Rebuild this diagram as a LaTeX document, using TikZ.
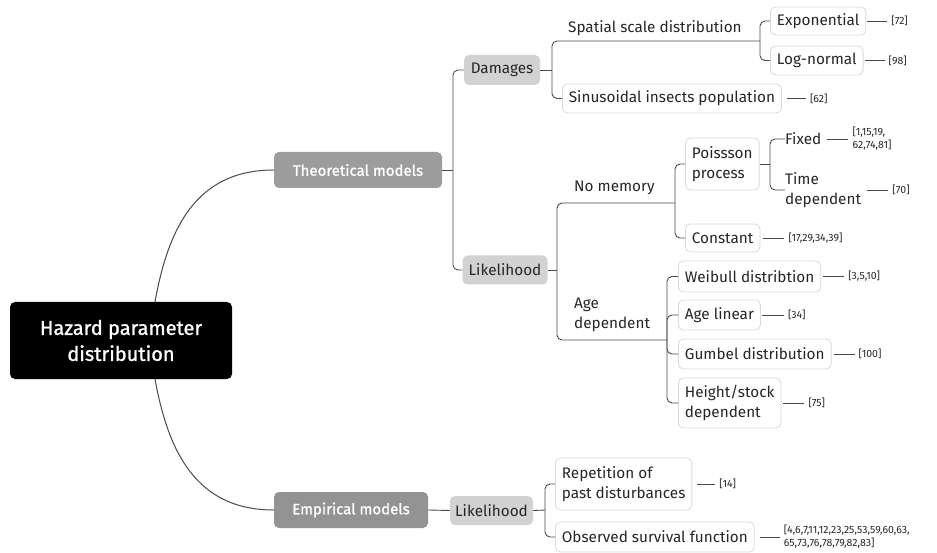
\documentclass[tikz,border=0pt]{standalone}
\usepackage{fontspec}
\setmainfont{Fira Sans}
\newfontfamily\semib[FakeBold=1.2]{Fira Sans}
\usetikzlibrary{calc}
\definecolor{linec}{HTML}{4A4A4A}
\definecolor{boxb}{HTML}{D9D9D9}
\definecolor{txt}{HTML}{262626}
\definecolor{theof}{HTML}{9C9C9C}
\definecolor{empf}{HTML}{939393}
\definecolor{subf}{HTML}{D2D2D2}
\tikzset{
  conn/.style={draw=linec, line width=0.9pt, rounded corners=5pt},
  refl/.style={draw=linec, line width=0.8pt},
  base/.style={inner sep=0pt, text=txt, font=\fontsize{15.3}{20}\selectfont},
  wbox/.style={base, draw=boxb, fill=white, rounded corners=5pt, line width=0.8pt, align=left, anchor=west, inner xsep=6.5pt},
  gbox/.style={base, fill=subf, rounded corners=5pt},
  mbox/.style={base, rounded corners=5pt, text=white, font=\semib\fontsize{15}{20}\selectfont},
  lbl/.style={base, inner sep=0pt, align=left, anchor=west},
  ref/.style={inner xsep=4pt, inner ysep=0pt, text=txt, font=\fontsize{10.5}{13}\selectfont, align=left, anchor=west},
}
\begin{document}
\begin{tikzpicture}[x=1pt,y=-1pt]
\useasboundingbox (0,0) rectangle (937,553);
% main nodes
\node[fill=black, rounded corners=5pt, text=white, inner sep=0pt, minimum width=222, minimum height=77, align=center, font=\semib\fontsize{20}{26}\selectfont] (root) at (121,340.5) {Hazard parameter\\distribution};
\node[mbox, fill=theof, minimum width=168, minimum height=36] (theo) at (358,170) {Theoretical models};
\node[mbox, fill=empf, minimum width=154, minimum height=36] (emp) at (351,510) {Empirical models};
\node[gbox, minimum width=76, minimum height=30] (dam) at (502,70) {Damages};
\node[gbox, minimum width=85, minimum height=29] (lik1) at (505,270) {Likelihood};
\node[gbox, minimum width=83, minimum height=29] (lik2) at (491.5,510.5) {Likelihood};
% damages subtree
\node[lbl] (spatial) at (568,28) {Spatial scale distribution};
\node[wbox, minimum height=29] (sinus) at (562,98.5) {Sinusoidal insects population};
\node[wbox, minimum height=28] (expo) at (770,21) {Exponential};
\node[wbox, minimum height=29] (logn) at (770,60.5) {Log-normal};
% likelihood subtree
\node[lbl] (nomem) at (574,188) {No memory};
\node[wbox, minimum height=52] (poiss) at (685,164) {Poissson\\process};
\node[wbox, minimum height=28] (const) at (685,238) {Constant};
\node[lbl] (fixed) at (785,139) {Fixed};
\node[lbl] (timedep) at (785,190) {Time\\dependent};
\node[lbl] (agedep) at (574,315) {Age\\dependent};
\node[wbox, minimum height=31] (weib) at (678,276.5) {Weibull distribtion};
\node[wbox, minimum height=30] (agelin) at (678,315) {Age linear};
\node[wbox, minimum height=30] (gumb) at (678,354) {Gumbel distribution};
\node[wbox, minimum height=50] (height) at (678,403) {Height/stock\\dependent};
% empirical subtree
\node[wbox, minimum height=52] (rep) at (555,484) {Repetition of\\past disturbances};
\node[wbox, minimum height=30] (obs) at (555,537) {Observed survival function};
% references
\node[ref] (r72) at ($(expo.east)+(21,0)$) {[72]};
\node[ref] (r98) at ($(logn.east)+(21,0)$) {[98]};
\node[ref] (r62) at ($(sinus.east)+(24,0)$) {[62]};
\node[ref] (rfix) at ($(fixed.east)+(27,0)$) {[1,15,19,\\62,74,81]};
\node[ref] (r70) at ($(timedep.east)+(27,0)$) {[70]};
\node[ref] (rcon) at ($(const.east)+(24,0)$) {[17,29,34,39]};
\node[ref] (rwei) at ($(weib.east)+(23,0)$) {[3,5,10]};
\node[ref] (r34) at ($(agelin.east)+(23,0)$) {[34]};
\node[ref] (r100) at ($(gumb.east)+(23,0)$) {[100]};
\node[ref] (r75) at ($(height.east)+(23,0)$) {[75]};
\node[ref] (r14) at ($(rep.east)+(23,0)$) {[14]};
\node[ref] (robs) at ($(obs.east)+(25,0)$) {[4,6,7,11,12,23,25,53,59,60,63,\\65,73,76,78,79,82,83]};
% bracket coordinates
\coordinate (bT) at (453,170);
\coordinate (bD) at (552,70);
\coordinate (sE) at (760,41);
\coordinate (bL) at (557,270);
\coordinate (nmE) at (675,203);
\coordinate (adE) at (667,340);
\coordinate (bP) at (770,164);
\coordinate (bE) at (545,510);
\coordinate (rt) at ($(root.north)+(34,0)$);
\coordinate (rb) at ($(root.south)+(34,0)$);
% root curves
\draw[linec, line width=1pt] (rt) .. controls (168,230) and (195,170) .. (theo.west);
\draw[linec, line width=1pt] (rb) .. controls (168,450) and (195,510) .. (emp.west);
% theoretical
\draw[conn] (theo.east) -- (bT);
\draw[conn] (bT) |- (dam.west);
\draw[conn] (bT) |- (lik1.west);
\draw[conn] (dam.east) -- (bD);
\draw[conn] (bD) |- (sE);
\draw[conn] (bD) |- (sinus.west);
\draw[conn] (sE) |- (expo.west);
\draw[conn] (sE) |- (logn.west);
\draw[conn] (lik1.east) -- (bL);
\draw[conn] (bL) |- (nmE);
\draw[conn] (bL) |- (adE);
\draw[conn] (nmE) |- (poiss.west);
\draw[conn] (nmE) |- (const.west);
\draw[conn] (poiss.east) -- (bP);
\draw[conn] (bP) |- (fixed.west);
\draw[conn] (bP) |- (timedep.west);
\draw[conn] (adE) |- (weib.west);
\draw[conn] (adE) |- (agelin.west);
\draw[conn] (adE) |- (gumb.west);
\draw[conn] (adE) |- (height.west);
% empirical
\draw[conn] (emp.east) -- (lik2.west);
\draw[conn] (lik2.east) -- (bE);
\draw[conn] (bE) |- (rep.west);
\draw[conn] (bE) |- (obs.west);
% reference lines
\draw[refl] (expo.east) ++(1,0) -- (r72.west);
\draw[refl] (logn.east) ++(1,0) -- (r98.west);
\draw[refl] (sinus.east) ++(5,0) -- (r62.west);
\draw[refl] (fixed.east) ++(6,0) -- (rfix.west |- fixed.east);
\draw[refl] (timedep.east) ++(6,0) -- (r70.west);
\draw[refl] (const.east) ++(3,0) -- (rcon.west);
\draw[refl] (weib.east) ++(2,0) -- (rwei.west);
\draw[refl] (agelin.east) ++(1,0) -- (r34.west);
\draw[refl] (gumb.east) ++(2,0) -- (r100.west);
\draw[refl] (height.east) ++(2,0) -- (r75.west);
\draw[refl] (rep.east) ++(5,0) -- (r14.west);
\draw[refl] (obs.east) ++(5,0) -- (robs.west);
\end{tikzpicture}
\end{document}
